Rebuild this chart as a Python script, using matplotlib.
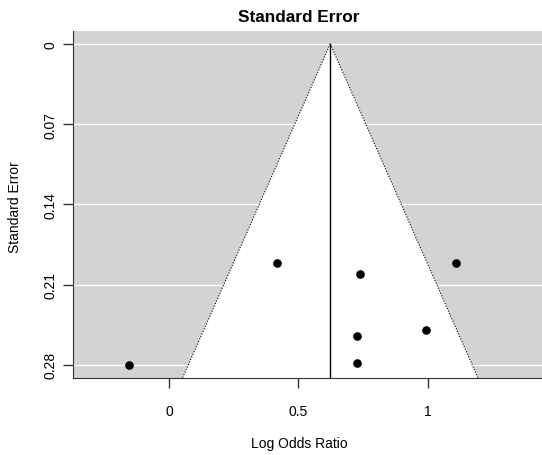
import numpy as np
import matplotlib
matplotlib.use("Agg")
from matplotlib import pyplot as plt

plt.rcParams['font.family'] = ['Liberation Sans', 'DejaVu Sans']

# study estimates
log_odds = [-0.153, 0.418, 0.740, 1.109, 0.993, 0.726, 0.726]
std_err = [0.280, 0.191, 0.201, 0.191, 0.250, 0.255, 0.278]
estimate = 0.6235
yticks = [0, 0.07, 0.14, 0.21, 0.28]
ytick_labels = ['0', '0.07', '0.14', '0.21', '0.28']
xticks = [0, 0.5, 1]
xtick_labels = ['0', '0.5', '1']

W, H = 542, 456
fig = plt.figure(figsize=(W / 100, H / 100), dpi=100)
ax = fig.add_axes([73 / W, 1 - 378.7 / H, (W - 73) / W, (378.7 - 32) / H])

se_max = max(std_err)
pad = se_max * 0.04
ylo, yhi = -pad, se_max + pad
ax.set_xlim(-0.371, 1.442)
ax.set_ylim(yhi, ylo)

ax.set_facecolor('#D3D3D3')
for t in yticks:
    ax.axhline(t, color='white', lw=0.9, zorder=1)

# pseudo confidence region
se_line = np.array([0, yhi + 0.01])
left = estimate - 1.96 * se_line
right = estimate + 1.96 * se_line
ax.fill([left[1], estimate, right[1]], [se_line[1], 0, se_line[1]],
        color='white', zorder=2, lw=0)
ax.plot(left, se_line, color='black', lw=0.8, ls=(0, (1, 1.5)), zorder=3)
ax.plot(right, se_line, color='black', lw=0.8, ls=(0, (1, 1.5)), zorder=3)
ax.plot([estimate, estimate], [0, yhi], color='black', lw=1, zorder=3)

ax.plot(log_odds, std_err, 'o', color='black', ms=5.2, zorder=4)

ax.spines['top'].set_visible(False)
ax.spines['right'].set_visible(False)
ax.spines['left'].set_color('#333333')
ax.spines['bottom'].set_color('#333333')

ax.set_yticks(yticks)
ax.set_yticklabels(ytick_labels, rotation=90, va='center')
ax.set_xticks(xticks)
ax.set_xticklabels(xtick_labels)
ax.tick_params(axis='both', labelsize=10, length=7, width=1, color='#333333')
ax.tick_params(axis='y', pad=4)
ax.tick_params(axis='x', pad=12)

fig.text(298.5 / W, 1 - 18 / H, 'Standard Error', ha='center', va='center',
         fontsize=12.4, fontweight='bold')
fig.text(299 / W, 1 - 444 / H, 'Log Odds Ratio', ha='center', va='center', fontsize=10)
fig.text(15 / W, 1 - 207 / H, 'Standard Error', ha='center', va='center',
         rotation=90, fontsize=10)

fig.savefig('out.png', dpi=100)
